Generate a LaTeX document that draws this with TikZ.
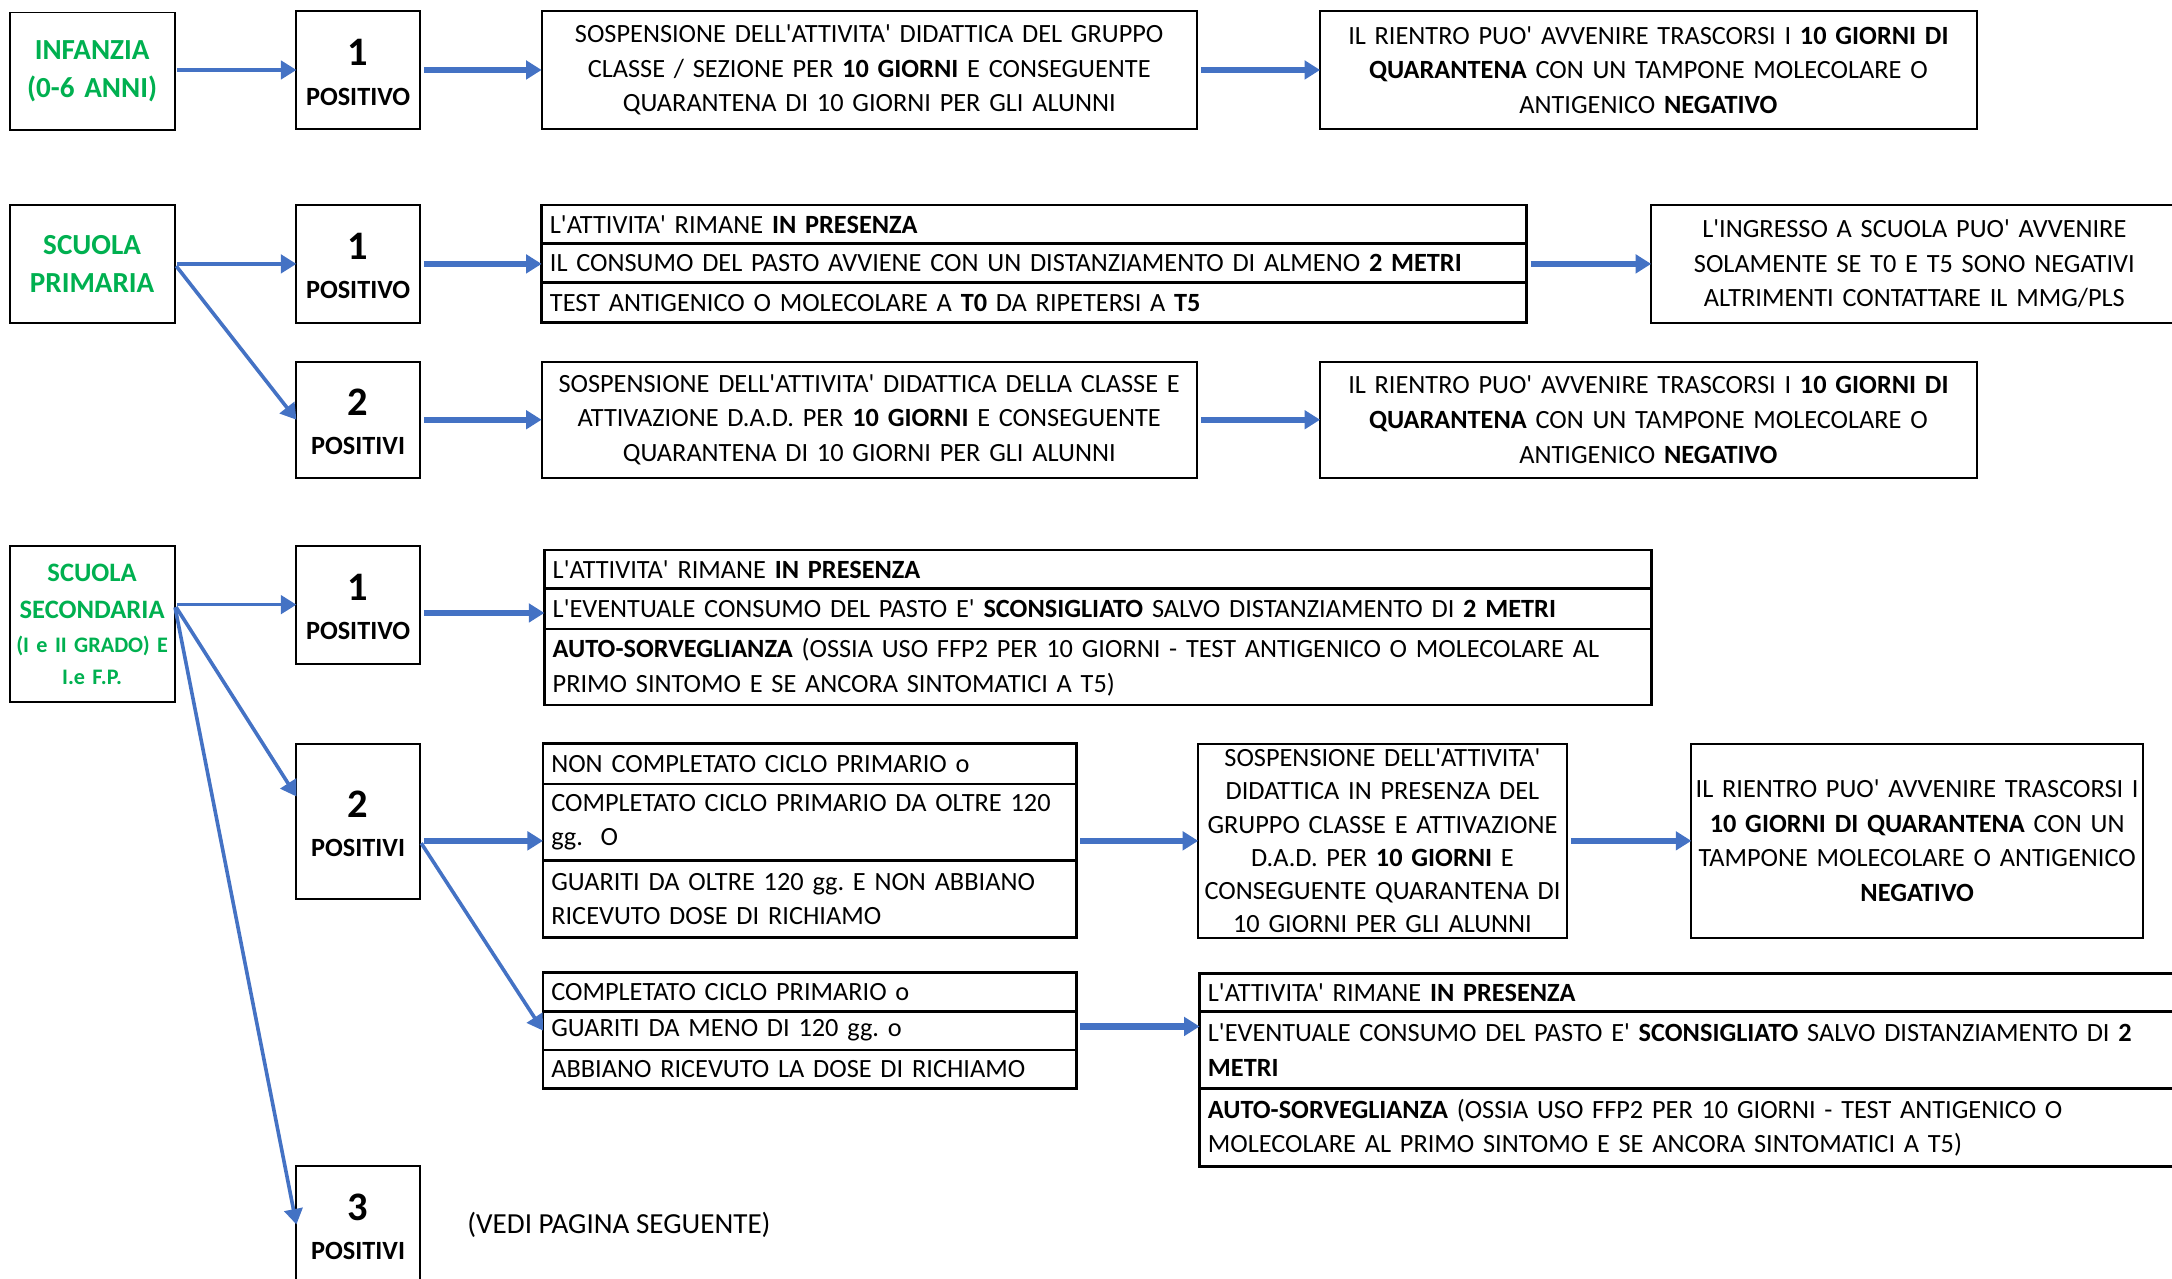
\documentclass[tikz,border=0pt]{standalone}
\usepackage{fontspec}
\newfontfamily\calibri{Carlito}
\usepackage{tikz}
\usetikzlibrary{arrows.meta,fit}
\definecolor{arrowblue}{HTML}{4472C4}
\definecolor{labelgreen}{HTML}{00B050}
\newcommand{\numlbl}[2]{{\fontsize{14.6}{14.2}\selectfont\rule{0pt}{11.2pt}#1}\\#2}
\frenchspacing

\begin{document}
\begin{tikzpicture}[x=0.5pt, y=-0.5pt, >={Triangle[length=5.6pt,width=6.6pt]},
	every node/.style={font=\calibri\fontsize{9.5}{12.5}\selectfont},
	box/.style={draw, line width=0.7pt, align=center, inner sep=0pt, outer sep=0pt, minimum width=#1, text width=#1},
	catbox/.style={box=59.5pt, text=labelgreen, font=\calibri\bfseries\fontsize{10.5}{14}\selectfont},
	numbox/.style={box=44.5pt, font=\calibri\bfseries\fontsize{9.5}{14.2}\selectfont},
	cell/.style={draw, line width=1pt, anchor=north west, inner xsep=3pt, inner ysep=0pt, outer sep=0pt, align=left, text width=#1},
	arr/.style={->, draw=arrowblue, line width=2.2pt, shorten <=1.5pt},
	branch/.style={->, draw=arrowblue, line width=1.3pt, shorten <=1pt}]
	\useasboundingbox (0,0) rectangle (1568,923);
	\clip (0,0) rectangle (1568,923);

	\node[catbox, minimum height=42.5pt] (inf) at (66.5,51.5) {INFANZIA\\(0-6 ANNI)};
	\node[numbox, minimum height=42.5pt] (p1a) at (258.5,50.5) {\numlbl{1}{POSITIVO}};
	\node[box=236.5pt, minimum height=42.5pt] (sosp1) at (627.5,50.5) {SOSPENSIONE DELL'ATTIVITA' DIDATTICA DEL GRUPPO\\CLASSE / SEZIONE PER \textbf{10 GIORNI} E CONSEGUENTE\\QUARANTENA DI 10 GIORNI PER GLI ALUNNI};
	\node[box=237pt, minimum height=42.5pt] (rient1) at (1190,50.5) {IL RIENTRO PUO' AVVENIRE TRASCORSI I \textbf{10 GIORNI DI}\\\textbf{QUARANTENA} CON UN TAMPONE MOLECOLARE O\\ANTIGENICO \textbf{NEGATIVO}};
	\draw[branch] (inf.east |- p1a) -- (p1a);
	\draw[arr] (p1a) -- (sosp1);
	\draw[arr] (sosp1) -- (rient1);

	\node[catbox, minimum height=42.5pt] (prim) at (66.5,190.5) {SCUOLA\\PRIMARIA};
	\node[numbox, minimum height=42.5pt] (p1b) at (258.5,190.5) {\numlbl{1}{POSITIVO}};
	\node[numbox, minimum height=42pt] (p2b) at (258.5,303) {\numlbl{2}{POSITIVI}};
	\node[cell=349.5pt, minimum height=14pt] (tp1) at (391,148) {L'ATTIVITA' RIMANE \textbf{IN PRESENZA}};
	\node[cell=349.5pt, minimum height=14pt] (tp2) at (tp1.south west) {IL CONSUMO DEL PASTO AVVIENE CON UN DISTANZIAMENTO DI ALMENO \textbf{2 METRI}};
	\node[cell=349.5pt, minimum height=14.5pt] (tp3) at (tp2.south west) {TEST ANTIGENICO O MOLECOLARE A \textbf{T0} DA RIPETERSI A \textbf{T5}};
	\node[fit=(tp1)(tp3), inner sep=0pt, outer sep=0pt] (tabP) {};
	\node[box=190pt, minimum height=42.5pt] (ingr) at (1382,190.5) {L'INGRESSO A SCUOLA PUO' AVVENIRE\\SOLAMENTE SE T0 E T5 SONO NEGATIVI\\ALTRIMENTI CONTATTARE IL MMG/PLS};
	\node[box=236.5pt, minimum height=42pt] (sosp2) at (627.5,303) {SOSPENSIONE DELL'ATTIVITA' DIDATTICA DELLA CLASSE E\\ATTIVAZIONE D.A.D. PER \textbf{10 GIORNI} E CONSEGUENTE\\QUARANTENA DI 10 GIORNI PER GLI ALUNNI};
	\node[box=237pt, minimum height=42pt] (rient2) at (1190,303) {IL RIENTRO PUO' AVVENIRE TRASCORSI I \textbf{10 GIORNI DI}\\\textbf{QUARANTENA} CON UN TAMPONE MOLECOLARE O\\ANTIGENICO \textbf{NEGATIVO}};
	\draw[branch] (prim) -- (p1b);
	\draw[branch] (prim.east) -- (p2b.west);
	\draw[arr] (p1b) -- (tabP);
	\draw[arr] (tabP) -- (ingr);
	\draw[arr] (p2b) -- (sosp2);
	\draw[arr] (sosp2) -- (rient2);

	\node[catbox, minimum height=56.5pt, font=\calibri\bfseries\fontsize{8}{11.5}\selectfont] (sec) at (66.5,450.5) {{\fontsize{9.6}{11.5}\selectfont SCUOLA\\[1.8pt]SECONDARIA}\\[0.8pt](I e II GRADO) E\\I.e F.P.};
	\node[numbox, minimum height=42.5pt] (p1c) at (258.5,436.5) {\numlbl{1}{POSITIVO}};
	\node[numbox, minimum height=56pt] (p2c) at (258.5,593) {\numlbl{2}{POSITIVI}};
	\node[numbox, minimum height=42pt] (p3c) at (258.5,884) {\numlbl{3}{POSITIVI}};
	\node[anchor=west, inner sep=0pt, font=\calibri\fontsize{10.5}{12.5}\selectfont] (vedi) at (337,884) {(VEDI PAGINA SEGUENTE)};

	\node[cell=393.5pt, minimum height=14pt] (ts1) at (393,397) {L'ATTIVITA' RIMANE \textbf{IN PRESENZA}};
	\node[cell=393.5pt, minimum height=14.5pt] (ts2) at (ts1.south west) {L'EVENTUALE CONSUMO DEL PASTO E' \textbf{SCONSIGLIATO} SALVO DISTANZIAMENTO DI \textbf{2 METRI}};
	\node[cell=393.5pt, minimum height=27.5pt] (ts3) at (ts2.south west) {\textbf{AUTO-SORVEGLIANZA} (OSSIA USO FFP2 PER 10 GIORNI - TEST ANTIGENICO O MOLECOLARE AL\\PRIMO SINTOMO E SE ANCORA SINTOMATICI A T5)};
	\node[fit=(ts1)(ts3), inner sep=0pt, outer sep=0pt] (tabS) {};

	\node[cell=186.5pt, minimum height=14.5pt] (ta1) at (392,537) {NON COMPLETATO CICLO PRIMARIO o};
	\node[cell=186.5pt, minimum height=27.5pt] (ta2) at (ta1.south west) {COMPLETATO CICLO PRIMARIO DA OLTRE 120\\gg.\ \ O};
	\node[cell=186.5pt, minimum height=28pt] (ta3) at (ta2.south west) {GUARITI DA OLTRE 120 gg. E NON ABBIANO\\RICEVUTO DOSE DI RICHIAMO};
	\node[fit=(ta1)(ta3), inner sep=0pt, outer sep=0pt] (tabA) {};
	\node[box=133pt, minimum height=70pt, font=\calibri\fontsize{9.5}{12}\selectfont] (midS) at (998,607) {SOSPENSIONE DELL'ATTIVITA'\\DIDATTICA IN PRESENZA DEL\\GRUPPO CLASSE E ATTIVAZIONE\\D.A.D. PER \textbf{10 GIORNI} E\\CONSEGUENTE QUARANTENA DI\\10 GIORNI PER GLI ALUNNI};
	\node[box=163pt, minimum height=70pt] (rightS) at (1384,607) {IL RIENTRO PUO' AVVENIRE TRASCORSI I\\\textbf{10 GIORNI DI QUARANTENA} CON UN\\TAMPONE MOLECOLARE O ANTIGENICO\\\textbf{NEGATIVO}};

	\node[cell=186.5pt, minimum height=14pt] (tb1) at (392,702) {COMPLETATO CICLO PRIMARIO o};
	\node[cell=186.5pt, minimum height=14pt] (tb2) at (tb1.south west) {GUARITI DA MENO DI 120 gg. o};
	\node[cell=186.5pt, minimum height=14pt] (tb3) at (tb2.south west) {ABBIANO RICEVUTO LA DOSE DI RICHIAMO};
	\node[fit=(tb1)(tb3), inner sep=0pt, outer sep=0pt] (tabB) {};

	\node[cell=351pt, minimum height=13.5pt] (tc1) at (866,703) {L'ATTIVITA' RIMANE \textbf{IN PRESENZA}};
	\node[cell=351pt, minimum height=28pt] (tc2) at (tc1.south west) {L'EVENTUALE CONSUMO DEL PASTO E' \textbf{SCONSIGLIATO} SALVO DISTANZIAMENTO DI \textbf{2}\\\textbf{METRI}};
	\node[cell=351pt, minimum height=28pt] (tc3) at (tc2.south west) {\textbf{AUTO-SORVEGLIANZA} (OSSIA USO FFP2 PER 10 GIORNI - TEST ANTIGENICO O\\MOLECOLARE AL PRIMO SINTOMO E SE ANCORA SINTOMATICI A T5)};
	\node[fit=(tc1)(tc3), inner sep=0pt, outer sep=0pt] (tabC) {};

	\coordinate (secout) at (sec.east |- p1c.west);
	\coordinate (p2out) at (p2c.east |- tabA.west);
	\draw[branch] (secout) -- (p1c.west);
	\draw[branch] (secout) -- ([yshift=9pt]p2c.west);
	\draw[branch] (secout) -- (p3c.west);
	\draw[arr] ([yshift=-3pt]p1c.east) -- ([yshift=-3pt]p1c.east -| tabS.west);
	\draw[arr] (p2out) -- (tabA.west);
	\draw[branch] (p2out) -- (tabB.west);
	\draw[arr] (tabA) -- (midS);
	\draw[arr] (midS) -- (rightS);
	\draw[arr] ([yshift=1.5pt]tabB.east) -- ([yshift=1.5pt]tabB.east -| tabC.west);
\end{tikzpicture}
\end{document}
